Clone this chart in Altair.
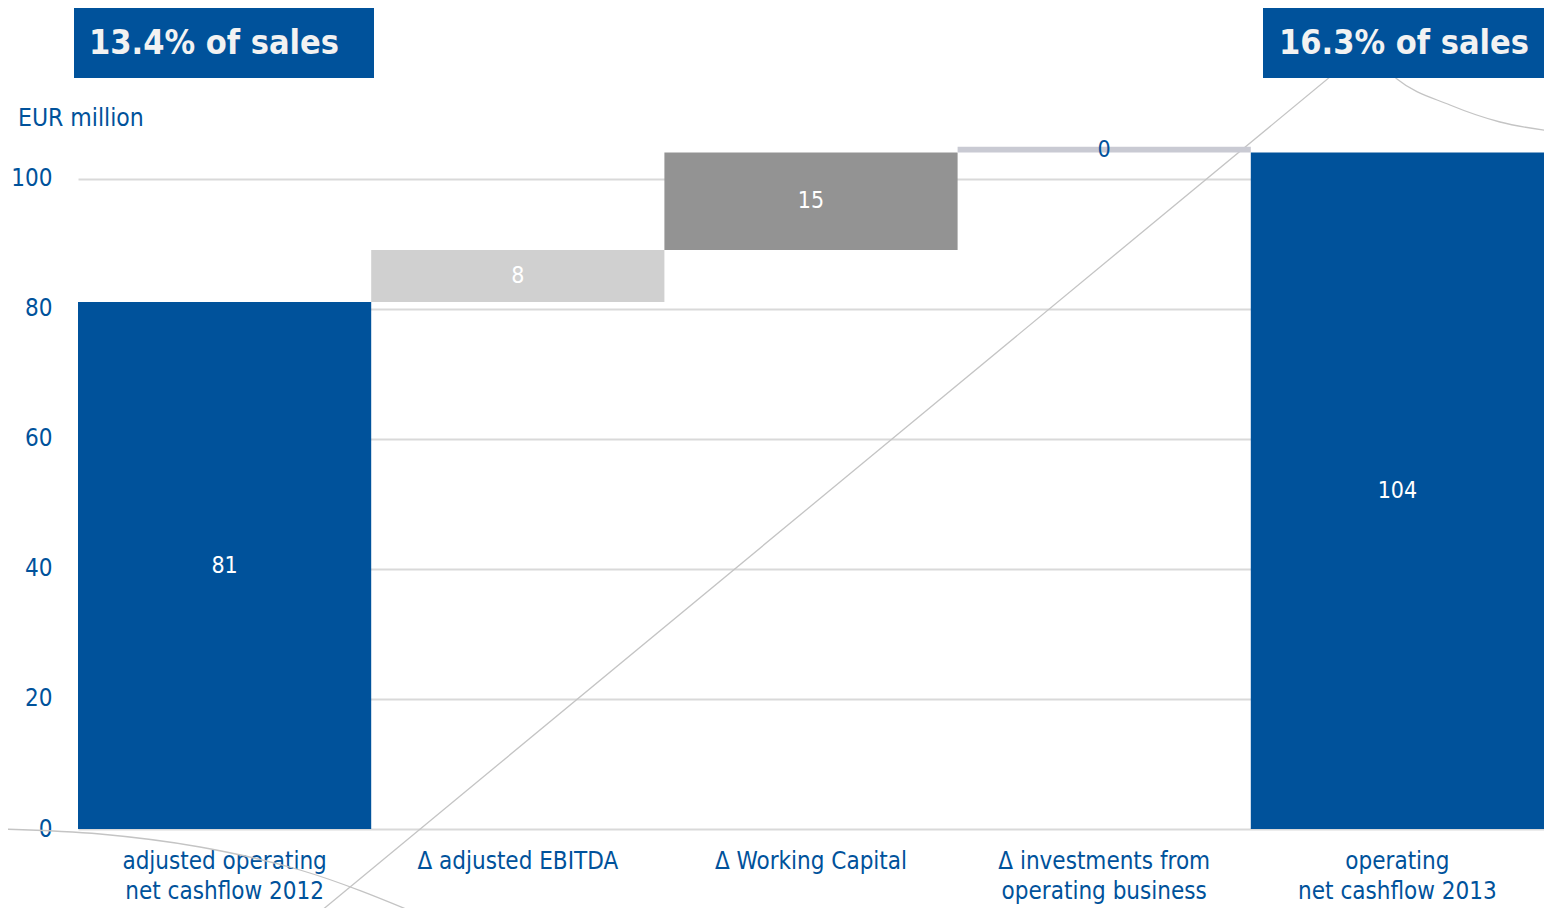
import altair as alt
import pandas as pd

# ---- data ----
categories = [
    "adjusted operating|net cashflow 2012",
    "Δ adjusted EBITDA",
    "Δ Working Capital",
    "Δ investments from|operating business",
    "operating|net cashflow 2013",
]
bar_start = [0, 81, 89, 104, 0]
bar_end = [81, 89, 104, 104.9, 104]
bar_labels = ["81", "8", "15", "0", "104"]
annotations = ["13.4% of sales", "16.3% of sales"]
y_ticks = [0, 20, 40, 60, 80, 100]

BLUE = "#00529b"
FONT = "DejaVu Sans Condensed, Liberation Sans Narrow, sans-serif"
bar_colors = [BLUE, "#d0d0d0", "#939393", "#c9cad3", BLUE]

df = pd.DataFrame({"category": categories, "start": bar_start, "end": bar_end, "label": bar_labels})

W, H = 1466, 683

# decorative background strokes (pixel space)
deco = pd.DataFrame({
    "stroke": ["d"] * 2 + ["a"] * 6 + ["b"] * 5,
    "order": list(range(2)) + list(range(6)) + list(range(5)),
    "px": [237, 1345, 1239, 1282, 1319, 1372, 1422, 1480, -78, 22, 122, 222, 345],
    "py": [770, -146, -146, -106, -67, -41, -24, -14, 683, 688, 701, 724, 770],
})
deco_layer = alt.Chart(deco).mark_line(color="#c4c4c4", strokeWidth=1.3, interpolate="monotone").encode(
    x=alt.X("px:Q", scale=None, axis=None),
    y=alt.Y("py:Q", scale=None, axis=None),
    detail="stroke:N",
    order="order:Q",
)

xenc = alt.X(
    "category:N", sort=categories, title=None,
    scale=alt.Scale(paddingInner=0, paddingOuter=0),
    axis=alt.Axis(labelAngle=0, labelExpr="split(datum.label, '|')", labelFont=FONT, labelFontSize=24,
                  labelColor=BLUE, labelLineHeight=30, labelPadding=20, ticks=False, domain=False,
                  labelLimit=400),
)
yscale = alt.Scale(domain=[0, 105], nice=False)

bars = alt.Chart(df).mark_bar().encode(
    x=xenc,
    y=alt.Y("start:Q", scale=yscale, title=None,
            axis=alt.Axis(values=y_ticks, grid=True, gridColor="#d9d9d9", gridWidth=2, ticks=False,
                          domain=False, labelFont=FONT, labelFontSize=24, labelColor=BLUE, labelPadding=26)),
    y2="end:Q",
    color=alt.Color("category:N", scale=alt.Scale(domain=categories, range=bar_colors), legend=None),
)

texts = alt.Chart(df).transform_calculate(mid="(datum.start + datum.end) / 2").mark_text(
    font=FONT, fontSize=23, baseline="middle"
).encode(
    x=alt.X("category:N", sort=categories),
    y=alt.Y("mid:Q", scale=yscale),
    text="label:N",
    color=alt.condition("datum.end - datum.start < 2", alt.value(BLUE), alt.value("white")),
)

unit = alt.Chart(pd.DataFrame({"u": ["EUR million"]})).mark_text(
    font=FONT, fontSize=24.5, color=BLUE, align="left", baseline="middle"
).encode(x=alt.value(-60), y=alt.value(-27), text="u:N")

box1 = alt.Chart(pd.DataFrame({"t": [annotations[0]]})).mark_rect(color=BLUE).encode(
    x=alt.value(-4), x2=alt.value(296), y=alt.value(-140), y2=alt.value(-68))
box1t = alt.Chart(pd.DataFrame({"t": [annotations[0]]})).mark_text(
    font=FONT, fontSize=34, fontWeight="bold", color="#f2f2f2", baseline="middle"
).encode(x=alt.value(136), y=alt.value(-102), text="t:N")
box2 = alt.Chart(pd.DataFrame({"t": [annotations[1]]})).mark_rect(color=BLUE).encode(
    x=alt.value(1185), x2=alt.value(1480), y=alt.value(-140), y2=alt.value(-68))
box2t = alt.Chart(pd.DataFrame({"t": [annotations[1]]})).mark_text(
    font=FONT, fontSize=34, fontWeight="bold", color="#f2f2f2", baseline="middle"
).encode(x=alt.value(1326), y=alt.value(-102), text="t:N")

main = alt.layer(bars, texts)
chart = alt.layer(deco_layer, main, unit, box1, box1t, box2, box2t).resolve_scale(
    x="independent", y="independent"
).properties(
    width=W, height=H,
    autosize=alt.AutoSizeParams(type="none"),
    padding={"left": 70, "top": 138, "right": 0, "bottom": 79},
    background="white",
).configure_view(stroke=None)

chart.save("out.html", embed_options={"renderer": "svg", "actions": False})
